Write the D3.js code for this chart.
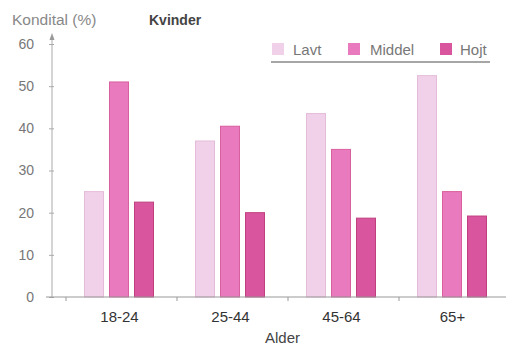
<!DOCTYPE html>
<html>
<head>
<meta charset="utf-8">
<script src="https://cdn.jsdelivr.net/npm/d3@7"></script>
<style>
  body { margin: 0; background: #fff; }
  svg { display: block; }
  text { font-family: "Liberation Sans", Arial, sans-serif; }
</style>
</head>
<body>
<svg id="chart" width="508" height="351"></svg>
<script>
// Age groups and fitness level shares (%) for women
const categories = ["18-24", "25-44", "45-64", "65+"];
const seriesNames = ["Lavt", "Middel", "Hojt"];
const lavt = [25, 37, 43.5, 52.5];
const middel = [51, 40.5, 35, 25];
const hojt = [22.5, 20, 18.7, 19.2];
const yTicks = [0, 10, 20, 30, 40, 50, 60];

const seriesValues = [lavt, middel, hojt];
const colors = ["#f1d0e9", "#e87abd", "#d9559e"];
const strokes = ["#e4bcd9", "#d9609f", "#c0407f"];

const svg = d3.select("#chart");

const x0 = d3.scaleBand().domain(categories).range([64, 508]).padding(0);
const x1 = d3.scaleBand().domain(seriesNames).range([0, 69]).paddingInner(0.24).paddingOuter(0);
const y = d3.scaleLinear().domain([0, 60]).range([297, 44]);

// Bars
const groups = svg.append("g")
  .selectAll("g")
  .data(categories)
  .join("g")
  .attr("transform", d => `translate(${x0(d) + x0.bandwidth() / 2 - 35},0)`);

groups.selectAll("rect")
  .data((c, i) => seriesNames.map((s, j) => ({ s, j, v: seriesValues[j][i] })))
  .join("rect")
  .attr("x", d => x1(d.s))
  .attr("width", x1.bandwidth())
  .attr("y", d => y(d.v))
  .attr("height", d => y(0) - y(d.v))
  .attr("fill", d => colors[d.j])
  .attr("stroke", d => strokes[d.j])
  .attr("stroke-width", 1);

// Y axis
const yAxis = svg.append("g").attr("transform", "translate(52,0)")
  .call(d3.axisLeft(y).tickValues(yTicks).tickSize(3).tickPadding(15));
yAxis.select(".domain").remove();
yAxis.selectAll(".tick line").attr("stroke", "#aaa").attr("x2", 2).attr("x1", -3);
yAxis.selectAll(".tick text").attr("fill", "#777").attr("font-size", 14)
  .attr("font-family", "Liberation Sans, Arial, sans-serif");
svg.append("line").attr("x1", 52).attr("x2", 52).attr("y1", y(0)).attr("y2", 36)
  .attr("stroke", "#aaa").attr("stroke-width", 1);
svg.append("path").attr("d", "M49.5,40 L52,33 L54.5,40 Z").attr("fill", "#999");

// X axis
const xAxis = svg.append("g").attr("transform", `translate(0,${y(0)})`)
  .call(d3.axisBottom(x0).tickSize(0).tickPadding(14));
xAxis.select(".domain").remove();
xAxis.selectAll(".tick text").attr("fill", "#333").attr("font-size", 15)
  .attr("font-family", "Liberation Sans, Arial, sans-serif");
svg.append("line").attr("x1", 46).attr("x2", 506).attr("y1", y(0)).attr("y2", y(0))
  .attr("stroke", "#999").attr("stroke-width", 1.2);
svg.append("g").selectAll("line")
  .data(categories)
  .join("line")
  .attr("x1", d => x0(d) + 2).attr("x2", d => x0(d) + 2)
  .attr("y1", y(0)).attr("y2", y(0) + 4)
  .attr("stroke", "#999");

// Titles
svg.append("text").attr("x", 12).attr("y", 25).attr("font-size", 15.5).attr("fill", "#888")
  .text("Kondital (%)");
svg.append("text").attr("x", 149).attr("y", 25).attr("font-size", 14).attr("font-weight", "bold")
  .attr("fill", "#444").text("Kvinder");
svg.append("text").attr("x", 265).attr("y", 343).attr("font-size", 15).attr("fill", "#444")
  .text("Alder");

// Legend
const legendX = [272, 348, 440];
const legend = svg.append("g").selectAll("g")
  .data(seriesNames)
  .join("g")
  .attr("transform", (d, i) => `translate(${legendX[i]},43)`);
legend.append("rect").attr("width", 12).attr("height", 12)
  .attr("fill", (d, i) => colors[i]);
legend.append("text").attr("x", (d, i) => [21, 22, 20][i]).attr("y", 11.5)
  .attr("font-size", 15).attr("fill", "#777").text(d => d);
svg.append("line").attr("x1", 271).attr("x2", 490).attr("y1", 62).attr("y2", 62)
  .attr("stroke", "#888").attr("stroke-width", 1.5);
</script>
</body>
</html>
